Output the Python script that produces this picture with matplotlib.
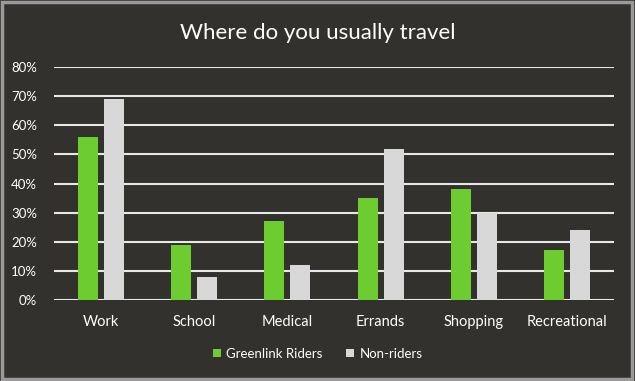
import matplotlib.pyplot as plt
import numpy as np
from matplotlib.patches import Rectangle

categories = ["Work", "School", "Medical", "Errands", "Shopping", "Recreational"]
greenlink = [0.56, 0.19, 0.27, 0.35, 0.38, 0.17]
non_riders = [0.69, 0.08, 0.12, 0.52, 0.30, 0.24]
yticks = [0, 0.1, 0.2, 0.3, 0.4, 0.5, 0.6, 0.7, 0.8]

BG = "#33312e"
GREEN = "#6dcc2f"
GREY = "#d8d8d8"
FONT = "Lato"

fig = plt.figure(figsize=(6.35, 3.81), dpi=100)
fig.patch.set_facecolor(BG)
# thin light frame round the chart
fig.patches.append(Rectangle((0.003, 0.004), 0.993, 0.992, transform=fig.transFigure,
                             facecolor="none", edgecolor="#9a9a9a", linewidth=2.5))

ax = fig.add_axes([0.085, 0.2126, 0.882, 0.6114])
ax.set_facecolor(BG)

x = np.arange(len(categories))
w = 0.215
off = 0.14
ax.bar(x - off, greenlink, w, color=GREEN, label="Greenlink Riders", zorder=3)
ax.bar(x + off, non_riders, w, color=GREY, label="Non-riders", zorder=3)

ax.set_xlim(-0.5, len(categories) - 0.5)
ax.set_ylim(0, 0.8)
ax.set_yticks(yticks)
ax.set_yticklabels([f"{int(round(v * 100))}%" for v in yticks], color="white",
                   fontsize=9.5, family=FONT)
ax.set_xticks(x)
ax.set_xticklabels(categories, color="white", fontsize=10.5, family=FONT)
ax.tick_params(axis="x", length=0, pad=11)
ax.tick_params(axis="y", length=0, pad=12)
ax.grid(axis="y", color="#e8e8e8", linewidth=1.5, zorder=1)
for s in ax.spines.values():
    s.set_visible(False)

fig.text(0.5, 0.913, "Where do you usually travel", ha="center", va="center",
         color="white", fontsize=16, family=FONT)

leg = fig.legend(loc="center", bbox_to_anchor=(0.5, 0.072), ncol=2, frameon=False,
                 handlelength=0.6, handleheight=0.6, handletextpad=0.4,
                 columnspacing=1.8, prop={"family": FONT, "size": 9.5})
for t in leg.get_texts():
    t.set_color("white")

fig.savefig("out.png", dpi=100, facecolor=fig.get_facecolor())
